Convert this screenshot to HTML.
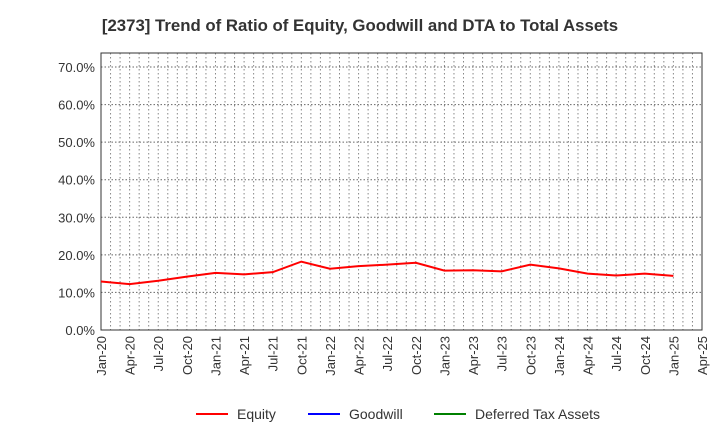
<!DOCTYPE html>
<html><head><meta charset="utf-8"><style>
body{margin:0;background:#fff;font-family:"Liberation Sans",sans-serif}
</style></head><body>
<svg id="c" width="720" height="440" xmlns="http://www.w3.org/2000/svg" font-family="Liberation Sans, sans-serif">
<text x="360" y="31" text-anchor="middle" font-size="16.8" font-weight="bold" fill="#333">[2373]  Trend of Ratio of Equity, Goodwill and DTA to Total Assets</text>
<g id="grid"></g><g id="axes"></g><g id="series"></g>
<g>
<line x1="196" y1="414" x2="228" y2="414" stroke="#ff0000" stroke-width="2"/>
<text x="237" y="419" font-size="14" fill="#333">Equity</text>
<line x1="308" y1="414" x2="340" y2="414" stroke="#0000ff" stroke-width="2"/>
<text x="349" y="419" font-size="14" fill="#333">Goodwill</text>
<line x1="434" y1="414" x2="466" y2="414" stroke="#008000" stroke-width="2"/>
<text x="475" y="419" font-size="14" fill="#333">Deferred Tax Assets</text>
</g>
</svg>
<script>
const xLabels=["Jan-20","Apr-20","Jul-20","Oct-20","Jan-21","Apr-21","Jul-21","Oct-21","Jan-22","Apr-22","Jul-22","Oct-22","Jan-23","Apr-23","Jul-23","Oct-23","Jan-24","Apr-24","Jul-24","Oct-24","Jan-25","Apr-25"];
const yTicks=[0,10,20,30,40,50,60,70];
const equity=[12.9,12.2,13.1,14.2,15.2,14.8,15.4,18.2,16.3,17.0,17.4,17.9,15.8,15.9,15.6,17.4,16.4,15.0,14.5,15.0,14.4];
const NS="http://www.w3.org/2000/svg";
const L=101,R=702,T=53,B=330;
const x=i=>L+(R-L)*i/(xLabels.length-1);
const y=v=>B-(B-67)*v/70;
function mk(t,a,p){const e=document.createElementNS(NS,t);for(const k in a)e.setAttribute(k,a[k]);p.appendChild(e);return e;}
const g=document.getElementById('grid'),ax=document.getElementById('axes'),s=document.getElementById('series');
const months=(xLabels.length-1)*3;
for(let m=1;m<months;m++){const xx=L+(R-L)*m/months;
const ln=mk('line',{x1:xx,x2:xx,y1:T,y2:B,stroke:'#888','stroke-dasharray':'1.5,2.5','stroke-width':1},g);

}
yTicks.forEach(v=>{const yy=y(v);
if(v>0){const ln=mk('line',{x1:L,x2:R,y1:yy,y2:yy,stroke:'#666','stroke-dasharray':'1.5,2','stroke-width':1},g);

}
const t=mk('text',{x:L-6,y:yy+5,'text-anchor':'end','font-size':13,fill:'#333'},ax);t.textContent=v.toFixed(1)+'%';

});
xLabels.forEach((lb,i)=>{const xx=x(i);
const t=mk('text',{x:xx+5,y:B+6,'text-anchor':'end','font-size':13,fill:'#333',transform:`rotate(-90 ${xx+5} ${B+6})`},ax);t.textContent=lb;

});
const fr=mk('rect',{x:L,y:T,width:R-L,height:B-T,fill:'none',stroke:'#333','stroke-width':1},ax);


const pl=mk('polyline',{points:equity.map((v,i)=>x(i)+','+y(v)).join(' '),fill:'none',stroke:'#ff0000','stroke-width':2},s);


</script>
</body></html>
